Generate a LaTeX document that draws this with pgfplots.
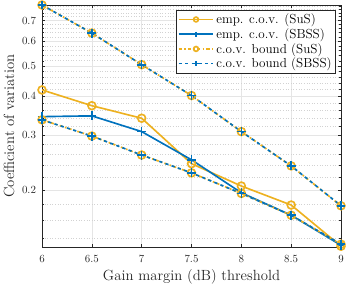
\documentclass[border=0pt]{standalone}
\usepackage{pgfplots}
\pgfplotsset{compat=1.18}
\definecolor{mblue}{rgb}{0,0.447,0.741}
\definecolor{morange}{rgb}{0.929,0.694,0.125}
\definecolor{axgray}{rgb}{0.15,0.15,0.15}
\begin{document}
\begin{tikzpicture}
\begin{axis}[
  name=ax,
  scale only axis,
  width=274pt, height=222pt,
  ymode=log,
  xmin=6, xmax=9,
  ymin=0.131, ymax=0.785,
  xtick={6,6.5,7,7.5,8,8.5,9},
  xticklabels={6,6.5,7,7.5,8,8.5,9},
  ytick={0.2,0.3,0.4,0.5,0.6,0.7},
  yticklabels={0.2,0.3,0.4,0.5,0.6,0.7},
  minor ytick={0.14,0.16,0.18,0.22,0.24,0.26,0.28,0.32,0.34,0.36,0.38,0.42,0.44,0.46,0.48,0.52,0.54,0.56,0.58,0.62,0.64,0.66,0.68,0.72,0.74,0.76,0.78},
  tick align=inside,
  major tick length=3pt, minor tick length=1.8pt,
  axis line style={axgray},
  every tick/.style={axgray},
  tick label style={axgray},
  xticklabel style={yshift=-4pt},
  yticklabel style={xshift=-2pt},
  ymajorgrids, xmajorgrids, yminorgrids,
  major grid style={gray!20, line width=0.5pt},
  minor grid style={gray!35, dotted, line width=0.5pt},
  xlabel={Gain margin (dB) threshold},
  ylabel={Coefficient of variation},
  label style={font=\fontsize{13.5}{16}\selectfont, axgray},
  xlabel style={at={(axis description cs:0.5,-0.12)}, anchor=center},
  ylabel style={at={(axis description cs:-0.11,0.5)}, anchor=center},
  legend style={at={(axis description cs:1,1)}, xshift=-4.9pt, yshift=-4.3pt, anchor=north east, draw=axgray, fill=white, font=\large, row sep=-1pt, inner sep=1.5pt},
  legend cell align=left,
  legend image code/.code={\draw[mark repeat=2,mark phase=2, mark size=2.2pt] plot coordinates {(0cm,0cm) (0.56cm,0cm) (1.12cm,0cm)};},
]
\addplot[morange, line width=1.5pt, mark=o, mark size=3.6pt, mark options={solid}] coordinates {
 (6,0.419) (6.5,0.373) (7,0.340) (7.5,0.243) (8,0.206) (8.5,0.179) (9,0.132)};
\addlegendentry{emp. c.o.v. (SuS)}
\addplot[mblue, line width=1.5pt, mark=+, mark size=4.1pt, mark options={solid}] coordinates {
 (6,0.344) (6.5,0.346) (7,0.308) (7.5,0.250) (8,0.196) (8.5,0.166) (9,0.133)};
\addlegendentry{emp. c.o.v. (SBSS)}
\addplot[morange, line width=1.5pt, dash dot, mark=o, mark size=3.6pt, mark options={solid}] coordinates {
 (6,0.785) (6.5,0.638) (7,0.505) (7.5,0.402) (8,0.308) (8.5,0.239) (9,0.178)};
\addlegendentry{c.o.v. bound (SuS)}
\addplot[mblue, line width=1.5pt, dashed, mark=+, mark size=4.1pt, mark options={solid}] coordinates {
 (6,0.785) (6.5,0.638) (7,0.505) (7.5,0.402) (8,0.308) (8.5,0.239) (9,0.178)};
\addlegendentry{c.o.v. bound (SBSS)}
\addplot[morange, line width=1.5pt, dash dot, mark=o, mark size=3.6pt, mark options={solid}, forget plot] coordinates {
 (6,0.336) (6.5,0.298) (7,0.259) (7.5,0.227) (8,0.195) (8.5,0.166) (9,0.134)};
\addplot[mblue, line width=1.5pt, dashed, mark=+, mark size=4.1pt, mark options={solid}, forget plot] coordinates {
 (6,0.336) (6.5,0.298) (7,0.259) (7.5,0.227) (8,0.195) (8.5,0.166) (9,0.134)};
\end{axis}
\pgfresetboundingbox
\path[use as bounding box] ([xshift=-38.5pt,yshift=-34.9pt]ax.south west) rectangle ([xshift=6.4pt,yshift=4.6pt]ax.north east);
\end{tikzpicture}
\end{document}
